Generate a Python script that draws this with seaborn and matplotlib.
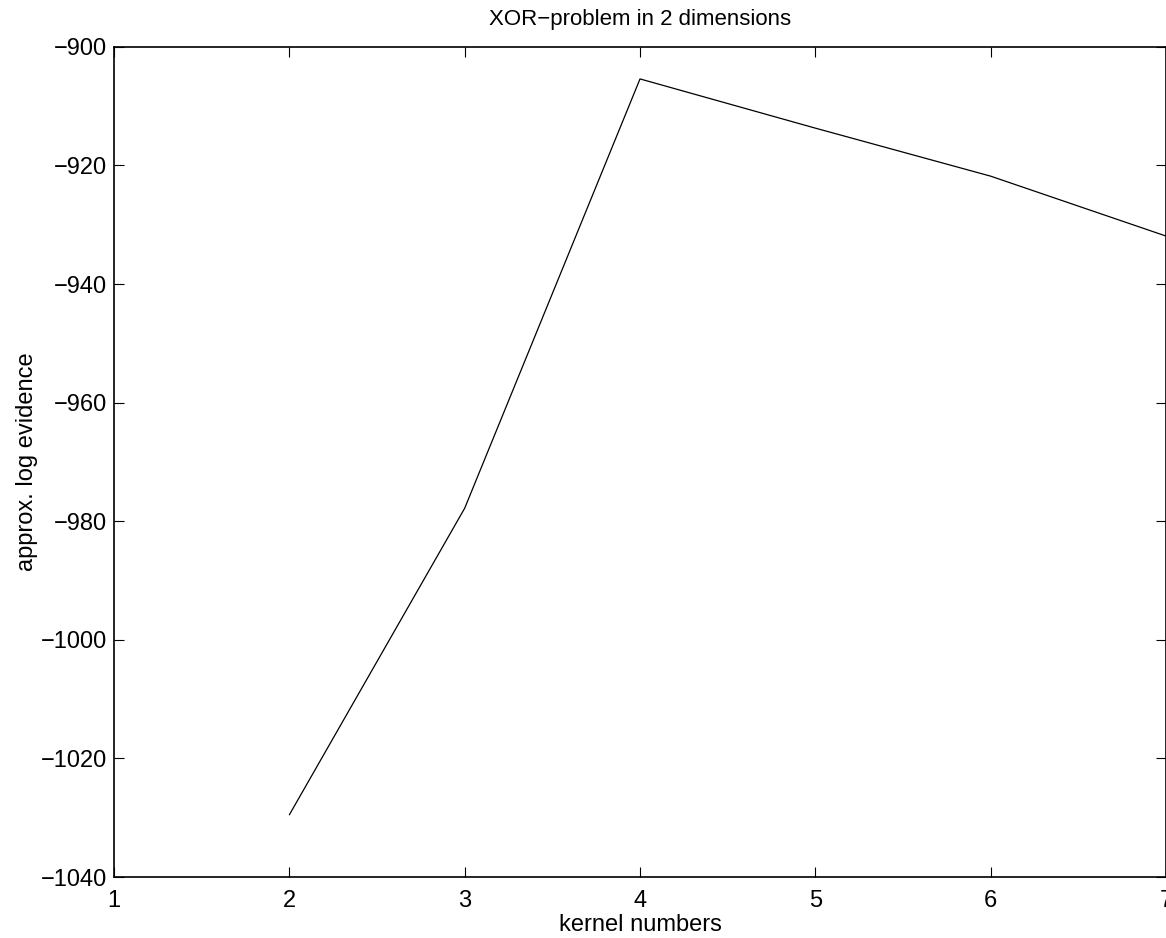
import matplotlib
matplotlib.use("Agg")
import matplotlib.pyplot as plt
import seaborn as sns
import pandas as pd

# values
kernels = [2, 3, 4, 5, 6, 7]
log_evidence = [-1029.5, -977.8, -905.4, -913.7, -921.8, -931.9]

df = pd.DataFrame({"kernels": kernels, "evidence": log_evidence})

sns.set_style("ticks")
plt.rcParams['font.family'] = ['Liberation Sans', 'DejaVu Sans']
plt.rcParams['text.color'] = 'black'
plt.rcParams['axes.labelcolor'] = 'black'

fig = plt.figure(figsize=(11.66, 9.38), dpi=100)
ax = fig.add_axes([0.0978, 0.065, 0.9022, 0.885])

sns.lineplot(data=df, x="kernels", y="evidence", color="black", linewidth=0.9, ax=ax)

ax.set_xlim(1, 7)
ax.set_ylim(-1040, -900)
ax.set_xticks(range(1, 8))
ax.set_yticks(range(-1040, -899, 20))
ax.tick_params(direction="in", length=7, width=0.8, labelsize=17, colors="black",
               top=True, right=True)
ax.tick_params(axis="x", pad=9)
ax.tick_params(axis="y", pad=5)
for s in ax.spines.values():
    s.set_visible(True)
    s.set_linewidth(1.2)
    s.set_color("black")

ax.set_title("XOR\u2212problem in 2 dimensions", fontsize=16, pad=16, color="black")
ax.set_xlabel("kernel numbers", fontsize=17, labelpad=2)
ax.set_ylabel("approx. log evidence", fontsize=17, labelpad=2)

fig.savefig("out.png", dpi=100)
